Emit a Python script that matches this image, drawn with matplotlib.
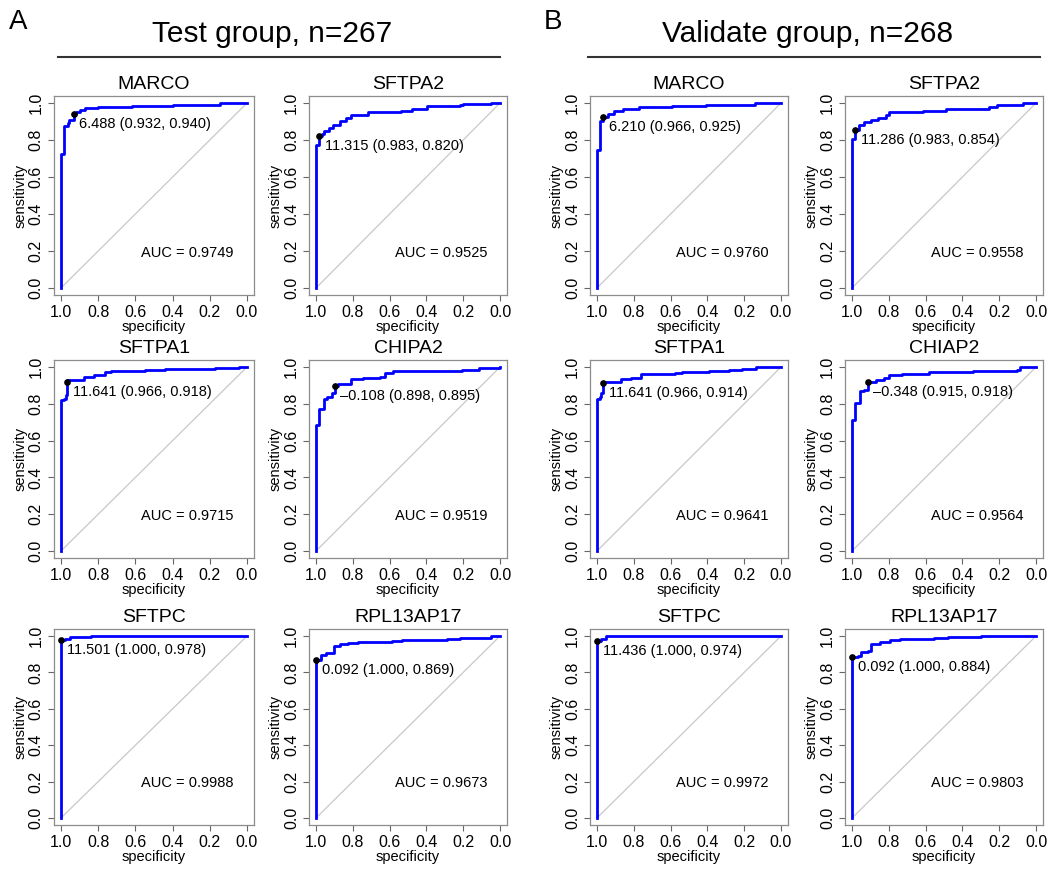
import matplotlib.pyplot as plt
from matplotlib.lines import Line2D

plt.rcParams['font.family'] = 'Liberation Sans'

W, H = 1047, 869

# ---- data (specificity, sensitivity vertices of each ROC step curve) ----
test_marco_spec = [1.0, 1.0, 0.982, 0.964, 0.955, 0.932, 0.92, 0.90, 0.87, 0.80, 0.62, 0.40, 0.22, 0.145, 0.0]
test_marco_sens = [0.0, 0.727, 0.873, 0.89, 0.909, 0.94, 0.95, 0.964, 0.973, 0.976, 0.982, 0.987, 0.99, 1.0, 1.0]

test_sftpa2_spec = [1.0, 1.0, 0.983, 0.97, 0.955, 0.93, 0.907, 0.87, 0.835, 0.808, 0.72, 0.54, 0.48, 0.395, 0.215, 0.2, 0.05, 0.0]
test_sftpa2_sens = [0.0, 0.775, 0.82, 0.835, 0.847, 0.865, 0.883, 0.905, 0.92, 0.937, 0.95, 0.955, 0.967, 0.982, 0.987, 0.996, 1.0, 1.0]

test_sftpa1_spec = [1.0, 1.0, 0.986, 0.975, 0.966, 0.91, 0.874, 0.82, 0.766, 0.73, 0.55, 0.44, 0.17, 0.045, 0.0]
test_sftpa1_sens = [0.0, 0.818, 0.827, 0.85, 0.927, 0.93, 0.944, 0.958, 0.973, 0.976, 0.982, 0.989, 0.995, 1.0, 1.0]

test_chipa2_spec = [1.0, 1.0, 0.985, 0.957, 0.94, 0.915, 0.898, 0.883, 0.81, 0.745, 0.65, 0.625, 0.58, 0.41, 0.207, 0.115, 0.0]
test_chipa2_sens = [0.0, 0.685, 0.772, 0.826, 0.837, 0.86, 0.895, 0.91, 0.935, 0.94, 0.948, 0.967, 0.976, 0.978, 0.985, 0.996, 1.0]

test_sftpc_spec = [1.0, 1.0, 0.98, 0.95, 0.84, 0.0]
test_sftpc_sens = [0.0, 0.978, 0.985, 0.996, 1.0, 1.0]

test_rpl_spec = [1.0, 1.0, 0.972, 0.945, 0.9, 0.87, 0.825, 0.77, 0.586, 0.53, 0.29, 0.217, 0.05, 0.0]
test_rpl_sens = [0.0, 0.869, 0.898, 0.906, 0.947, 0.956, 0.963, 0.969, 0.972, 0.98, 0.985, 0.991, 1.0, 1.0]

val_marco_spec = [1.0, 1.0, 0.982, 0.97, 0.966, 0.942, 0.906, 0.86, 0.77, 0.59, 0.41, 0.14, 0.0]
val_marco_sens = [0.0, 0.746, 0.904, 0.92, 0.925, 0.94, 0.955, 0.967, 0.976, 0.982, 0.987, 1.0, 1.0]

val_sftpa2_spec = [1.0, 1.0, 0.983, 0.96, 0.933, 0.897, 0.86, 0.815, 0.8, 0.616, 0.49, 0.254, 0.21, 0.072, 0.0]
val_sftpa2_sens = [0.0, 0.804, 0.854, 0.879, 0.9, 0.906, 0.918, 0.937, 0.951, 0.958, 0.967, 0.976, 0.991, 1.0, 1.0]

val_sftpa1_spec = [1.0, 1.0, 0.985, 0.976, 0.966, 0.945, 0.87, 0.816, 0.76, 0.576, 0.54, 0.39, 0.28, 0.21, 0.135, 0.0]
val_sftpa1_sens = [0.0, 0.828, 0.838, 0.856, 0.917, 0.921, 0.936, 0.94, 0.961, 0.967, 0.972, 0.98, 0.985, 0.99, 0.998, 1.0]

val_chiap2_spec = [1.0, 1.0, 0.985, 0.954, 0.936, 0.915, 0.909, 0.872, 0.826, 0.8, 0.726, 0.58, 0.342, 0.104, 0.086, 0.0]
val_chiap2_sens = [0.0, 0.712, 0.803, 0.867, 0.876, 0.918, 0.921, 0.93, 0.94, 0.958, 0.964, 0.973, 0.976, 0.985, 0.998, 1.0]

val_sftpc_spec = [1.0, 1.0, 0.98, 0.953, 0.44, 0.0]
val_sftpc_sens = [0.0, 0.974, 0.985, 0.998, 1.0, 1.0]

val_rpl_spec = [1.0, 1.0, 0.969, 0.95, 0.914, 0.896, 0.85, 0.795, 0.74, 0.557, 0.48, 0.3, 0.0]
val_rpl_sens = [0.0, 0.884, 0.888, 0.91, 0.92, 0.958, 0.969, 0.976, 0.985, 0.991, 0.996, 1.0, 1.0]

# best thresholds: threshold, specificity, sensitivity
test_thres = [6.488, 11.315, 11.641, -0.108, 11.501, 0.092]
test_thres_spec = [0.932, 0.983, 0.966, 0.898, 1.000, 1.000]
test_thres_sens = [0.940, 0.820, 0.918, 0.895, 0.978, 0.869]
test_auc = [0.9749, 0.9525, 0.9715, 0.9519, 0.9988, 0.9673]

val_thres = [6.210, 11.286, 11.641, -0.348, 11.436, 0.092]
val_thres_spec = [0.966, 0.983, 0.966, 0.915, 1.000, 1.000]
val_thres_sens = [0.925, 0.854, 0.914, 0.918, 0.974, 0.884]
val_auc = [0.9760, 0.9558, 0.9641, 0.9564, 0.9972, 0.9803]

test_genes = ['MARCO', 'SFTPA2', 'SFTPA1', 'CHIPA2', 'SFTPC', 'RPL13AP17']
val_genes = ['MARCO', 'SFTPA2', 'SFTPA1', 'CHIAP2', 'SFTPC', 'RPL13AP17']

test_curves = [(test_marco_spec, test_marco_sens), (test_sftpa2_spec, test_sftpa2_sens),
               (test_sftpa1_spec, test_sftpa1_sens), (test_chipa2_spec, test_chipa2_sens),
               (test_sftpc_spec, test_sftpc_sens), (test_rpl_spec, test_rpl_sens)]
val_curves = [(val_marco_spec, val_marco_sens), (val_sftpa2_spec, val_sftpa2_sens),
              (val_sftpa1_spec, val_sftpa1_sens), (val_chiap2_spec, val_chiap2_sens),
              (val_sftpc_spec, val_sftpc_sens), (val_rpl_spec, val_rpl_sens)]

# ---- layout: pixel span of data range (spec 1 -> 0, sens 1 -> 0) ----
col_px = [(61, 247), (316, 500), (597, 781), (852, 1036)]
row_px = [(103, 288), (367, 551), (636, 818)]

fig = plt.figure(figsize=(W / 100, H / 100), dpi=100)


def make_axes(c, r):
    x1, x0 = col_px[c]
    yt, yb = row_px[r]
    w = x0 - x1
    h = yb - yt
    left = x1 - 0.04 * w
    bottom = yb + 0.04 * h
    return fig.add_axes([left / W, 1 - bottom / H, 1.08 * w / W, 1.08 * h / H])


def roc_panel(ax, gene, spec, sens, thr, tsp, tse, auc):
    ax.plot([1, 0], [0, 1], color='#c8c8c8', lw=0.9)
    ax.plot(spec, sens, color='#0000ff', lw=2.0, drawstyle='steps-post')
    ax.plot([tsp], [tse], 'o', color='black', ms=3.8)
    label = ('%.3f (%.3f, %.3f)' % (thr, tsp, tse)).replace('-', '\u2013')
    ax.annotate(label, (tsp, tse), xytext=(4, -2), textcoords='offset points',
                ha='left', va='top', fontsize=10.5)
    ax.text(0.32, 0.19, 'AUC = %.4f' % auc, ha='center', va='center', fontsize=10.5)
    ax.set_xlim(1.04, -0.04)
    ax.set_ylim(-0.04, 1.04)
    ticks = [1.0, 0.8, 0.6, 0.4, 0.2, 0.0]
    ax.set_xticks(ticks)
    ax.set_xticklabels(['%.1f' % t for t in ticks], fontsize=11.5)
    ax.set_yticks(ticks)
    ax.set_yticklabels(['%.1f' % t for t in ticks], fontsize=11.5, rotation=90, va='center')
    ax.tick_params(direction='out', length=4, width=0.8, color='#666666', pad=3)
    for s in ax.spines.values():
        s.set_color('#8c8c8c')
        s.set_linewidth(0.9)
    ax.set_xlabel('specificity', fontsize=10.5, labelpad=0)
    ax.set_ylabel('sensitivity', fontsize=10.5, labelpad=1)
    ax.set_title(gene, fontsize=14, pad=5)


for i in range(6):
    r, c = i // 2, i % 2
    ax = make_axes(c, r)
    roc_panel(ax, test_genes[i], test_curves[i][0], test_curves[i][1],
              test_thres[i], test_thres_spec[i], test_thres_sens[i], test_auc[i])
    ax = make_axes(c + 2, r)
    roc_panel(ax, val_genes[i], val_curves[i][0], val_curves[i][1],
              val_thres[i], val_thres_spec[i], val_thres_sens[i], val_auc[i])

# group headers
fig.text(18 / W, 1 - 22 / H, 'A', fontsize=20, ha='center', va='center')
fig.text(553 / W, 1 - 22 / H, 'B', fontsize=20, ha='center', va='center')
fig.text(272 / W, 1 - 34 / H, 'Test group, n=267', fontsize=21.5, ha='center', va='center')
fig.text(808 / W, 1 - 34 / H, 'Validate group, n=268', fontsize=21.5, ha='center', va='center')
fig.add_artist(Line2D([58 / W, 500 / W], [1 - 57 / H, 1 - 57 / H], color='#333333', lw=1.5))
fig.add_artist(Line2D([588 / W, 1040 / W], [1 - 57 / H, 1 - 57 / H], color='#333333', lw=1.5))

plt.savefig('out.png', dpi=100)
